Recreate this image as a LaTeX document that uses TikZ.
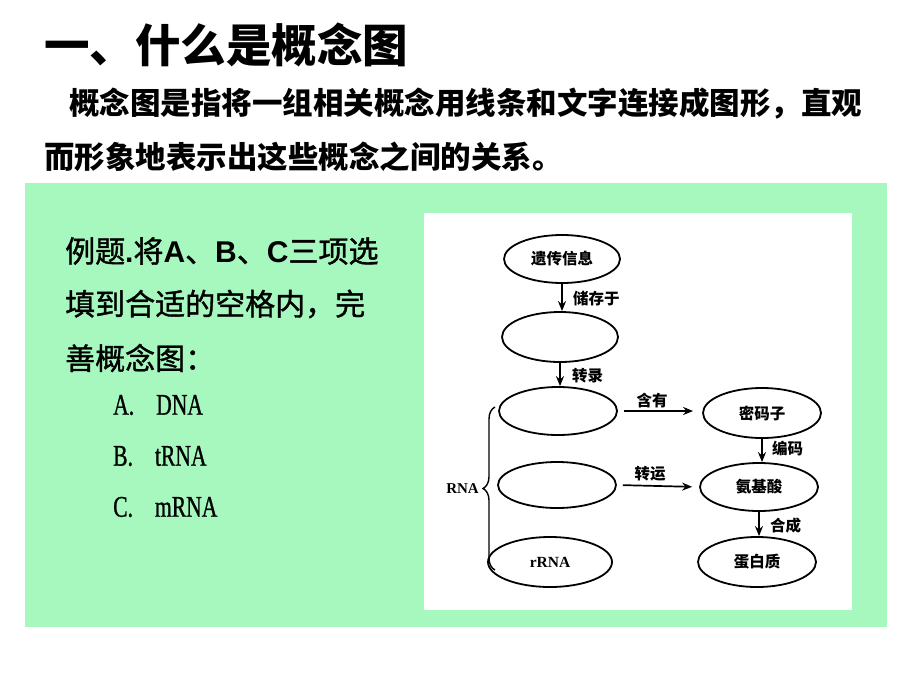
\documentclass[tikz,border=0pt]{standalone}
\usepackage{fontspec}
\usetikzlibrary{shapes.geometric,arrows.meta,decorations.pathreplacing}
\setmainfont{Noto Sans CJK SC}
\newfontfamily\cjkmed[FakeBold=1.2]{Noto Sans CJK SC}
\newfontfamily\arialf{Liberation Sans}
\newfontfamily\timesf{Liberation Serif}
\newfontfamily\optfont[FakeStretch=0.72,FakeBold=0.8]{Liberation Serif}
\definecolor{mint}{RGB}{166,248,190}
\newcommand{\AB}[1]{{\arialf\bfseries #1}}
\begin{document}
\begin{tikzpicture}[x=1pt,y=-1pt,
  ell/.style={draw, line width=1.8pt, ellipse, minimum width=118pt, minimum height=48pt, inner sep=0pt, font=\fontsize{15.5}{18}\selectfont\bfseries},
  arr/.style={draw, line width=1.7pt, -{Stealth[length=10pt,width=8pt]}},
  lab/.style={font=\fontsize{15.5}{18}\selectfont\bfseries, inner sep=0pt},
  head/.style={anchor=west, inner sep=0pt, font=\fontsize{30.5}{36}\selectfont\bfseries},
  qtext/.style={anchor=west, inner sep=0pt, font=\fontsize{30}{36}\selectfont\cjkmed},
  opt/.style={anchor=west, inner sep=0pt, font=\fontsize{30}{36}\selectfont\optfont},
]
\useasboundingbox (0,0) rectangle (920,690);
\fill[white] (0,0) rectangle (920,690);
\fill[mint] (25,183) rectangle (887,627);
\fill[white] (424,213) rectangle (852,610);

% title and intro
\node[anchor=west, inner sep=0pt, font=\fontsize{45.5}{52}\selectfont\bfseries] (title) at (44,45) {一、什么是概念图};
\node[head] (p1) at (69,104) {概念图是指将一组相关概念用线条和文字连接成图形，直观};
\node[head] (p2) at (44,157) {而形象地表示出这些概念之间的关系。};

% question
\node[qtext] (q1) at (65,251) {例题\AB{.}将\AB{A}、\AB{B}、\AB{C}三项选};
\node[qtext] (q2) at (65,304) {填到合适的空格内，完};
\node[qtext] (q3) at (65,358) {善概念图：};
\node[opt] (oa) at (113,405) {A.\hspace{22pt}DNA};
\node[opt] (ob) at (113,456) {B.\hspace{22pt}tRNA};
\node[opt] (oc) at (113,507) {C.\hspace{22pt}mRNA};

% concept map
\node[ell, minimum width=116pt] (e1) at (562,259) {遗传信息};
\node[ell, minimum width=116pt, minimum height=50pt] (e2) at (560,337) {};
\node[ell] (e3) at (558,411) {};
\node[ell, minimum height=46pt] (e4) at (557,485) {};
\node[ell, minimum width=124pt, minimum height=50pt, font=\fontsize{15.5}{18}\selectfont\timesf\bfseries] (rr) at (550,562) {rRNA};
\node[ell, minimum height=50pt] (mm) at (762,413) {密码子};
\node[ell] (aa) at (759,487) {氨基酸};
\node[ell, minimum height=50pt] (pr) at (757,562) {蛋白质};

\draw[arr] (e1.south) -- (e1.south |- e2.north);
\draw[arr] (e2.south) -- (e2.south |- e3.north);
\draw[arr, shorten <=6pt, shorten >=9pt] (e3.east) -- (e3.east -| mm.west);
\draw[arr, shorten <=6pt, shorten >=7pt] (e4.east) -- (aa.west);
\draw[arr] (mm.south) -- (mm.south |- aa.north);
\draw[arr] (aa.south) -- (aa.south |- pr.north);

\node[lab, anchor=west] (l1) at (573,299) {储存于};
\node[lab, anchor=west] (l2) at (572,376) {转录};
\node[lab] (l3) at (652,401) {含有};
\node[lab] (l4) at (650,474) {转运};
\node[lab, anchor=west] (l5) at (772,449) {编码};
\node[lab, anchor=west] (l6) at (770,526) {合成};
\node[lab, anchor=east, font=\fontsize{15}{17}\selectfont\timesf\bfseries] (rna) at (479,489) {RNA};

\coordinate (bt) at (495,407);
\coordinate (bb) at (495,570);
\draw[line width=1.4pt, decorate, decoration={brace, amplitude=12pt}] (bb) -- (bt);
\end{tikzpicture}
\end{document}
